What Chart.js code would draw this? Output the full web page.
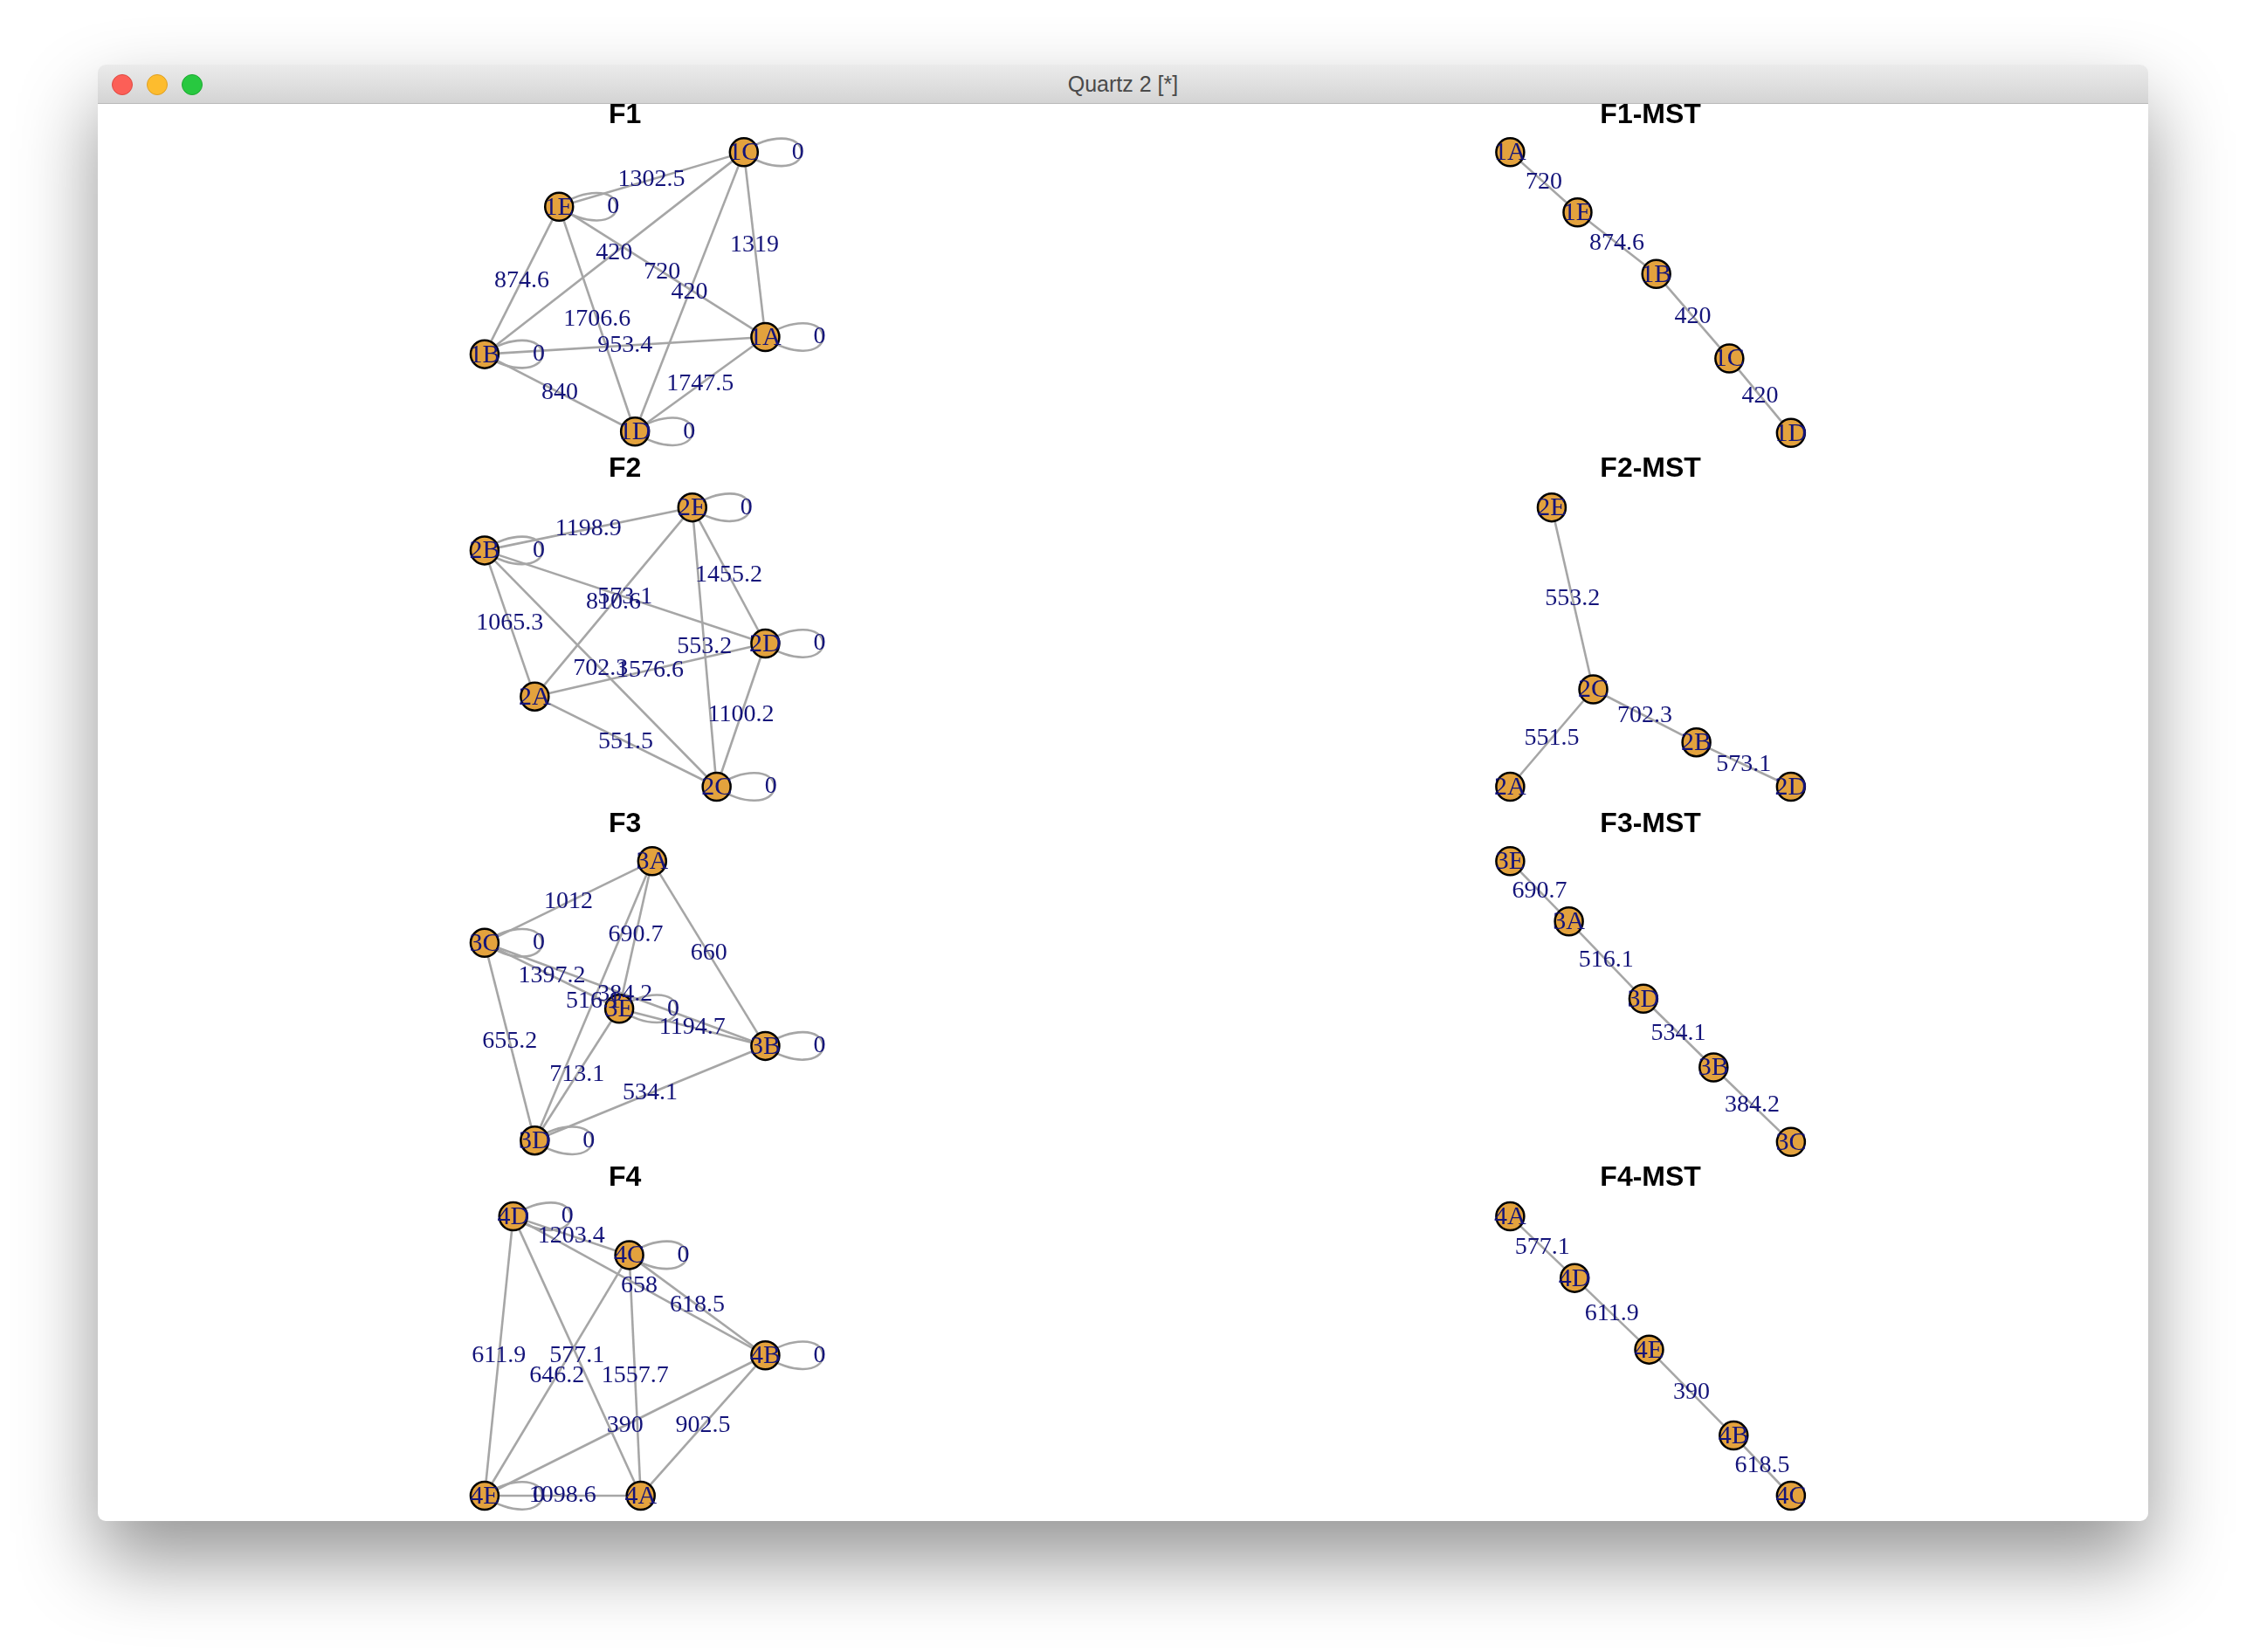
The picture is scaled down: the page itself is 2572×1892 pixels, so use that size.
<!DOCTYPE html>
<html>
<head>
<meta charset="utf-8">
<script src="https://cdn.jsdelivr.net/npm/chart.js@4/dist/chart.umd.min.js"></script>
<style>
  html, body { margin: 0; padding: 0; background: #ffffff; width: 2572px; height: 1892px; overflow: hidden; }
  #win { position: absolute; left: 112px; top: 74px; width: 2348px; height: 1668px; background: #fff;
         border-radius: 9px; box-shadow: 0 45px 90px rgba(0,0,0,0.42); overflow: hidden; }
  #bar { height: 44px; background: linear-gradient(#ebebeb, #d4d4d4); border-bottom: 1px solid #b9b9b9;
         font: 25px "Liberation Sans", Arial, sans-serif; color: #4a4a4a; text-align: center; line-height: 44px; position: relative; }
  .dot { position: absolute; top: 11px; width: 22px; height: 22px; border-radius: 50%; }
  #wrap { position: absolute; left: 0; top: 0; width: 2572px; height: 1892px; }
</style>
</head>
<body>
<div id="win">
  <div id="bar">Quartz 2 [*]
    <div class="dot" style="left:16px;background:#fc5f57;border:1px solid #de4a42"></div>
    <div class="dot" style="left:56px;background:#fdbc2e;border:1px solid #dea024"></div>
    <div class="dot" style="left:96px;background:#28c840;border:1px solid #1ea932"></div>
  </div>
</div>
<div id="wrap"><canvas id="c"></canvas></div>
<script>
// layout units: the reference thumbnail (1568 wide); axis maps them to page pixels
const S = 2572 / 1568;

const titles = ['F1', 'F1-MST', 'F2', 'F2-MST', 'F3', 'F3-MST', 'F4', 'F4-MST'];
const titleX = [436, 1152, 436, 1152, 436, 1152, 436, 1152];
const titleY = [80, 80, 327, 327, 575, 575, 822, 822];

// nodes per graph
const g1Names = ['1C', '1E', '1A', '1B', '1D'];
const g1X = [519, 390, 534, 338, 443];
const g1Y = [106, 144, 235, 247, 301];
const g1Loops = ['1C', '1E', '1A', '1B', '1D'];
const g1From = ['1E', '1B', '1D', '1A', '1E', '1E', '1E', '1B', '1B', '1A'];
const g1To   = ['1C', '1C', '1C', '1C', '1A', '1B', '1D', '1A', '1D', '1D'];
const g1W    = ['1302.5', '420', '420', '1319', '720', '874.6', '1706.6', '953.4', '840', '1747.5'];

const m1Names = ['1A', '1E', '1B', '1C', '1D'];
const m1X = [1054, 1101, 1156, 1207, 1250];
const m1Y = [106, 148, 191, 250, 302];
const m1From = ['1A', '1E', '1B', '1C'];
const m1To   = ['1E', '1B', '1C', '1D'];
const m1W    = ['720', '874.6', '420', '420'];

const g2Names = ['2E', '2B', '2D', '2A', '2C'];
const g2X = [483, 338, 534, 373, 500];
const g2Y = [354, 384, 449, 486, 549];
const g2Loops = ['2E', '2B', '2D', '2C'];
const g2From = ['2B', '2B', '2B', '2B', '2E', '2E', '2E', '2A', '2A', '2D'];
const g2To   = ['2E', '2D', '2A', '2C', '2A', '2D', '2C', '2D', '2C', '2C'];
const g2W    = ['1198.9', '573.1', '1065.3', '702.3', '810.6', '1455.2', '553.2', '1576.6', '551.5', '1100.2'];

const m2Names = ['2E', '2C', '2A', '2B', '2D'];
const m2X = [1083, 1112, 1054, 1184, 1250];
const m2Y = [354, 481, 549, 518, 549];
const m2From = ['2E', '2C', '2C', '2B'];
const m2To   = ['2C', '2A', '2B', '2D'];
const m2W    = ['553.2', '551.5', '702.3', '573.1'];

const g3Names = ['3A', '3C', '3E', '3B', '3D'];
const g3X = [455, 338, 432, 534, 373];
const g3Y = [601, 658, 704, 730, 796];
const g3Loops = ['3C', '3E', '3B', '3D'];
const g3From = ['3C', '3A', '3A', '3A', '3C', '3C', '3C', '3E', '3E', '3D'];
const g3To   = ['3A', '3E', '3D', '3B', '3E', '3B', '3D', '3B', '3D', '3B'];
const g3W    = ['1012', '690.7', '516.1', '660', '1397.2', '384.2', '655.2', '1194.7', '713.1', '534.1'];

const m3Names = ['3E', '3A', '3D', '3B', '3C'];
const m3X = [1054, 1095, 1147, 1196, 1250];
const m3Y = [601, 643, 697, 745, 797];
const m3From = ['3E', '3A', '3D', '3B'];
const m3To   = ['3A', '3D', '3B', '3C'];
const m3W    = ['690.7', '516.1', '534.1', '384.2'];

const g4Names = ['4D', '4C', '4B', '4E', '4A'];
const g4X = [358, 439, 534, 338, 447];
const g4Y = [849, 876, 946, 1044, 1044];
const g4Loops = ['4D', '4C', '4B', '4E'];
const g4From = ['4D', '4D', '4C', '4D', '4C', '4D', '4C', '4E', '4B', '4E'];
const g4To   = ['4C', '4B', '4B', '4E', '4E', '4A', '4A', '4B', '4A', '4A'];
const g4W    = ['1203.4', '658', '618.5', '611.9', '646.2', '577.1', '1557.7', '390', '902.5', '1098.6'];

const m4Names = ['4A', '4D', '4E', '4B', '4C'];
const m4X = [1054, 1099, 1151, 1210, 1250];
const m4Y = [849, 892, 942, 1002, 1044];
const m4From = ['4A', '4D', '4E', '4B'];
const m4To   = ['4D', '4E', '4B', '4C'];
const m4W    = ['577.1', '611.9', '390', '618.5'];

const graphs = [
  [g1Names, g1X, g1Y, g1From, g1To, g1W, g1Loops],
  [m1Names, m1X, m1Y, m1From, m1To, m1W, []],
  [g2Names, g2X, g2Y, g2From, g2To, g2W, g2Loops],
  [m2Names, m2X, m2Y, m2From, m2To, m2W, []],
  [g3Names, g3X, g3Y, g3From, g3To, g3W, g3Loops],
  [m3Names, m3X, m3Y, m3From, m3To, m3W, []],
  [g4Names, g4X, g4Y, g4From, g4To, g4W, g4Loops],
  [m4Names, m4X, m4Y, m4From, m4To, m4W, []]
];

const NAVY = '#14147a';
const datasets = [];
const nodePts = [], loopPts = [], edgeLabels = [];

graphs.forEach(g => {
  const [names, xs, ys, from, to, w, loops] = g;
  const pos = {};
  names.forEach((n, i) => { pos[n] = {x: xs[i], y: ys[i]}; nodePts.push({x: xs[i], y: ys[i], name: n}); });
  from.forEach((f, i) => {
    const a = pos[f], b = pos[to[i]];
    datasets.push({type: 'scatter', data: [a, b], showLine: true, borderColor: '#a6a6a6', borderWidth: 2.6,
                   pointRadius: 0, order: 2});
    edgeLabels.push({x: (a.x + b.x) / 2, y: (a.y + b.y) / 2, text: w[i]});
  });
  loops.forEach(n => loopPts.push(pos[n]));
});

datasets.push({type: 'scatter', data: nodePts, pointRadius: 16, pointBackgroundColor: '#e3a23d',
               pointBorderColor: '#000', pointBorderWidth: 2.5, order: 0});

const graphPlugin = {
  id: 'graphPlugin',
  beforeDatasetsDraw(chart) {
    const {ctx, scales: {x, y}} = chart;
    ctx.save();
    ctx.strokeStyle = '#a6a6a6';
    ctx.lineWidth = 2.6;
    loopPts.forEach(p => {
      const cx = x.getPixelForValue(p.x), cy = y.getPixelForValue(p.y);
      ctx.beginPath();
      ctx.moveTo(cx, cy);
      ctx.bezierCurveTo(cx + 28, cy - 22, cx + 66, cy - 20, cx + 66, cy);
      ctx.bezierCurveTo(cx + 66, cy + 20, cx + 28, cy + 22, cx, cy);
      ctx.stroke();
    });
    ctx.restore();
  },
  afterDatasetsDraw(chart) {
    const {ctx, scales: {x, y}} = chart;
    ctx.save();
    ctx.textAlign = 'center';
    ctx.textBaseline = 'middle';
    ctx.fillStyle = NAVY;
    ctx.font = '30px "Liberation Serif", "Times New Roman", serif';
    nodePts.forEach(p => ctx.fillText(p.name, x.getPixelForValue(p.x), y.getPixelForValue(p.y) + 1));
    ctx.font = '28px "Liberation Serif", "Times New Roman", serif';
    loopPts.forEach(p => ctx.fillText('0', x.getPixelForValue(p.x) + 62, y.getPixelForValue(p.y)));
    edgeLabels.forEach(l => ctx.fillText(l.text, x.getPixelForValue(l.x), y.getPixelForValue(l.y)));
    ctx.fillStyle = '#000';
    ctx.font = 'bold 32px "Liberation Sans", Arial, sans-serif';
    titles.forEach((t, i) => ctx.fillText(t, x.getPixelForValue(titleX[i]), y.getPixelForValue(titleY[i])));
    ctx.restore();
  }
};

const chart = new Chart(document.getElementById('c'), {
  data: {datasets: datasets},
  options: {
    responsive: true,
    maintainAspectRatio: false,
    animation: false,
    layout: {padding: 0},
    plugins: {legend: {display: false}, tooltip: {enabled: false}},
    scales: {
      x: {type: 'linear', display: false, min: 0, max: 2572 / S},
      y: {type: 'linear', display: false, min: 0, max: 1892 / S, reverse: true}
    }
  },
  plugins: [graphPlugin]
});

// the library insets the plot area for point size; grow the canvas so the plot area equals the page
const a = chart.chartArea;
const wrap = document.getElementById('wrap');
const padL = a.left, padT = a.top, padR = chart.width - a.right, padB = chart.height - a.bottom;
wrap.style.left = (-padL) + 'px';
wrap.style.top = (-padT) + 'px';
wrap.style.width = (2572 + padL + padR) + 'px';
wrap.style.height = (1892 + padT + padB) + 'px';
chart.resize();
</script>
</body>
</html>
